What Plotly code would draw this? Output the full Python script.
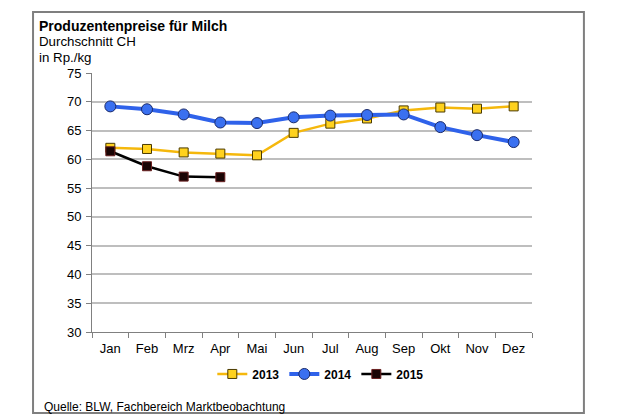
import plotly.graph_objects as go

months = ["Jan", "Feb", "Mrz", "Apr", "Mai", "Jun", "Jul", "Aug", "Sep", "Okt", "Nov", "Dez"]
v2013 = [62.0, 61.8, 61.2, 61.0, 60.7, 64.6, 66.2, 67.1, 68.5, 69.0, 68.8, 69.2]
v2014 = [69.2, 68.7, 67.8, 66.4, 66.3, 67.3, 67.6, 67.7, 67.8, 65.6, 64.2, 63.0]
v2015 = [61.4, 58.8, 57.0, 56.9]
months2015 = months[:4]
y_ticks = [30, 35, 40, 45, 50, 55, 60, 65, 70, 75]

FONT = "Liberation Sans, Arial, sans-serif"

fig = go.Figure()
fig.add_trace(go.Scatter(
    x=months, y=v2013, name="2013", mode="lines+markers",
    line=dict(color="#F5B80C", width=2.5),
    marker=dict(symbol="square", size=9, color="#FFD21E",
                line=dict(color="#4a3a00", width=1)),
))
fig.add_trace(go.Scatter(
    x=months, y=v2014, name="2014", mode="lines+markers",
    line=dict(color="#2F62EA", width=4),
    marker=dict(symbol="circle", size=11, color="#3A70F0",
                line=dict(color="#1a2a6a", width=1)),
))
fig.add_trace(go.Scatter(
    x=months2015, y=v2015, name="2015", mode="lines+markers",
    line=dict(color="#000000", width=2.5),
    marker=dict(symbol="square", size=9, color="#1a0505",
                line=dict(color="#6a2020", width=1)),
))

fig.update_layout(
    width=612, height=412,
    margin=dict(l=84, r=88, t=65, b=88),
    paper_bgcolor="white", plot_bgcolor="white",
    font=dict(family=FONT, size=13, color="#000000"),
    showlegend=True,
    legend=dict(orientation="h", x=0.52, xanchor="center", y=-0.162, yanchor="middle",
                font=dict(family=FONT, size=12, color="#000000", weight="bold"),
                itemwidth=30, tracegroupgap=0, bgcolor="rgba(0,0,0,0)"),
    xaxis=dict(
        type="category", categoryorder="array", categoryarray=months,
        range=[-0.5, 11.5],
        showgrid=False, showline=True, linecolor="#808080", linewidth=1,
        ticks="outside", tickson="boundaries", ticklen=5, tickcolor="#808080",
        tickfont=dict(family=FONT, size=13, color="#000000"),
        ticklabelstandoff=4,
        zeroline=False,
    ),
    yaxis=dict(
        range=[30, 75], tickvals=y_ticks,
        showgrid=True, gridcolor="#BEBEBE", gridwidth=1.5,
        showline=True, linecolor="#808080", linewidth=1,
        ticks="outside", ticklen=5, tickcolor="#808080",
        tickfont=dict(family=FONT, size=13, color="#000000"),
        ticklabelstandoff=2,
        zeroline=False,
    ),
)

# Outer frame
fig.add_shape(type="rect", xref="paper", yref="paper",
              x0=-0.134, x1=1.118, y0=-0.313, y1=1.236,
              line=dict(color="#7F7F7F", width=2), fillcolor="rgba(0,0,0,0)", layer="below")

fig.add_annotation(text="<b>Produzentenpreise für Milch</b>", xref="paper", yref="paper",
                   x=-0.125, y=1.181, xanchor="left", yanchor="middle", showarrow=False,
                   font=dict(family=FONT, size=14, color="#000000"))
fig.add_annotation(text="Durchschnitt CH", xref="paper", yref="paper",
                   x=-0.125, y=1.12, xanchor="left", yanchor="middle", showarrow=False,
                   font=dict(family=FONT, size=13.3, color="#000000"))
fig.add_annotation(text="in Rp./kg", xref="paper", yref="paper",
                   x=-0.125, y=1.058, xanchor="left", yanchor="middle", showarrow=False,
                   font=dict(family=FONT, size=13.3, color="#000000"))
fig.add_annotation(text="Quelle: BLW, Fachbereich Marktbeobachtung", xref="paper", yref="paper",
                   x=-0.114, y=-0.29, xanchor="left", yanchor="middle", showarrow=False,
                   font=dict(family=FONT, size=12, color="#000000"))

fig.write_html("out.html")
